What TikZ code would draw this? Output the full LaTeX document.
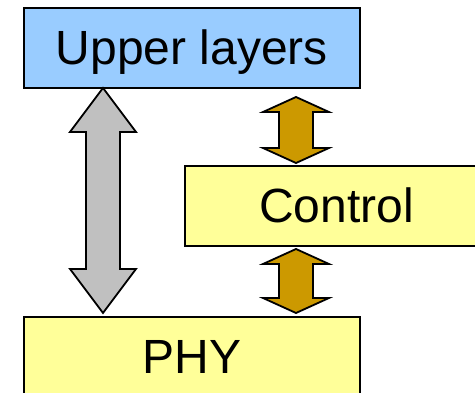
\documentclass[tikz,border=0pt]{standalone}
\usepackage{fontspec}
\setmainfont{Liberation Sans}
\usepackage{xcolor}
\usetikzlibrary{
  positioning,
  calc
}

\definecolor{upperblue}{HTML}{99CCFF}
\definecolor{layeryellow}{HTML}{FFFF99}
\definecolor{arrowgray}{HTML}{C0C0C0}
\definecolor{arrowgold}{HTML}{CC9900}

\tikzset{
	layer/.style={draw=black, line width=2.5pt, anchor=north west,
		outer sep=0pt, inner sep=0pt, minimum height=80pt,
		text height=34pt, text depth=0pt,
		font=\fontsize{48}{56}\selectfont},
	blockarrow/.style={draw=black, line width=1.8pt, line join=miter}
}

% double headed block arrow from #2 (top tip) to #3 (bottom tip), head length #4
\newcommand{\layerlink}[4]{%
	\draw[blockarrow, #1] (#2) -- ++(33,#4) -- ++(-16,0)
		-- ($(#3)+(17,-#4)$) -- ++(16,0) -- (#3) -- ++(-33,-#4)
		-- ++(16,0) -- ($(#2)+(-17,#4)$) -- ++(-16,0) -- cycle;
}

\begin{document}
\begin{tikzpicture}[x=1pt, y=-1pt]

	    \useasboundingbox (0,0) rectangle (475,393);
	    \clip (0,0) rectangle (475,393);

	    % layers
	    \node[layer, fill=upperblue, minimum width=336pt] (upper) at (24,8) {Upper layers};
	    \node[layer, fill=layeryellow, minimum width=303pt] (control) at (185,166) {Control};
	    \node[layer, fill=layeryellow, minimum width=336pt] (phy) at (24,317) {PHY};

	    % arrow tips
	    \path (upper.south west) ++(79,0)   coordinate (gtop);
	    \path (phy.north west)   ++(79,-4)  coordinate (gbot);
	    \path (upper.south west) ++(272,9)  coordinate (otop);
	    \path (control.north west) ++(111,-3) coordinate (obot);
	    \path (control.south west) ++(111,3)  coordinate (utop);
	    \path (phy.north west)   ++(272,-4) coordinate (ubot);

	    % upper layers <-> phy
	    \layerlink{fill=arrowgray}{gtop}{gbot}{44}

	    % control arrows
	    \layerlink{fill=arrowgold}{otop}{obot}{15}
	    \layerlink{fill=arrowgold}{utop}{ubot}{15}

	\end{tikzpicture}
\end{document}
